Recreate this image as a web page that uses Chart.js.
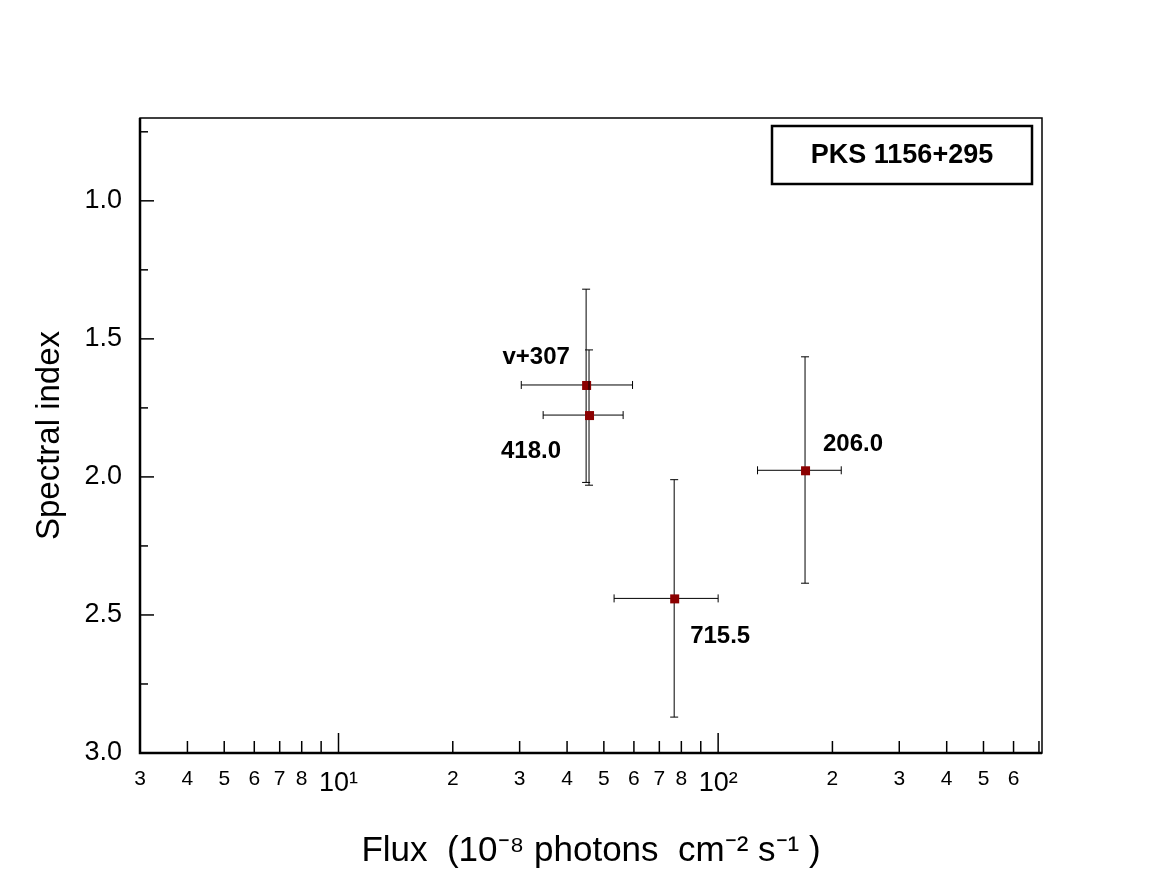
<!DOCTYPE html>
<html><head><meta charset="utf-8">
<script src="https://cdn.jsdelivr.net/npm/chart.js@4"></script>
<style>body{margin:0;background:#fff}#w{width:1158px;height:894px}</style>
</head><body><div id="w"><canvas id="c"></canvas></div>
<script>
const labels = ["v+307","418.0","715.5","206.0"];
const flux = [44.9, 45.7, 76.6, 169.4];
const fluxLo = [30.3, 34.6, 53.2, 127];
const fluxHi = [59.5, 56.2, 100, 211];
const index = [1.667, 1.776, 2.44, 1.976];
const indexLo = [1.32, 1.54, 2.01, 1.565];
const indexHi = [2.02, 2.03, 2.87, 2.385];
const labelOffsets = [[-50,-28],[-58,36],[46,38],[48,-26]];
const xTickVals = [3,4,5,6,7,8,10,20,30,40,50,60,70,80,100,200,300,400,500,600];
const xTickText = {10:"10¹",100:"10²"};
const yTickVals = [1.0,1.5,2.0,2.5,3.0];

const plugin = {
  id:'extras',
  afterDatasetsDraw(ch){
    const c=ch.ctx, x=ch.scales.x, y=ch.scales.y, a=ch.chartArea;
    c.save();
    c.strokeStyle='#000'; c.lineWidth=1;
    for(let i=0;i<flux.length;i++){
      const px=x.getPixelForValue(flux[i]), py=y.getPixelForValue(index[i]);
      const x0=x.getPixelForValue(fluxLo[i]), x1=x.getPixelForValue(fluxHi[i]);
      const y0=y.getPixelForValue(indexLo[i]), y1=y.getPixelForValue(indexHi[i]);
      c.beginPath();
      c.moveTo(x0,py);c.lineTo(x1,py);
      c.moveTo(x0,py-4);c.lineTo(x0,py+4);c.moveTo(x1,py-4);c.lineTo(x1,py+4);
      c.moveTo(px,y0);c.lineTo(px,y1);
      c.moveTo(px-4,y0);c.lineTo(px+4,y0);c.moveTo(px-4,y1);c.lineTo(px+4,y1);
      c.stroke();
      c.fillStyle='#8b0000'; c.fillRect(px-4,py-4,9,9);
      c.fillStyle='#000'; c.font='bold 24px "Liberation Sans", Arial'; c.textAlign='center'; c.textBaseline='middle';
      c.fillText(labels[i], px+labelOffsets[i][0], py+labelOffsets[i][1]);
    }
    c.lineWidth=1.5; c.strokeRect(a.left,a.top,a.right-a.left,a.bottom-a.top);
    c.lineWidth=2.5; c.beginPath(); c.moveTo(a.left,a.top); c.lineTo(a.left,a.bottom); c.lineTo(a.right,a.bottom); c.stroke();
    c.lineWidth=1.5;
    const all=[];
    for(let d=1;d<=100;d*=10) for(let m=1;m<10;m++) all.push(m*d);
    all.forEach(v=>{ if(v<x.min||v>x.max) return; const p=x.getPixelForValue(v); const L=(v===10||v===100)?20:12;
      c.beginPath(); c.moveTo(p,a.bottom); c.lineTo(p,a.bottom-L); c.stroke(); });
    for(let v=0.75; v<=3.0; v+=0.25){ const p=y.getPixelForValue(v); const L=(Math.abs(v*2-Math.round(v*2))<1e-6)?14:8;
      c.beginPath(); c.moveTo(a.left,p); c.lineTo(a.left+L,p); c.stroke(); }
    c.restore();
  }
};
const boxPlugin={id:'box',afterDraw(ch){const c=ch.ctx;c.save();c.fillStyle='#fff';c.fillRect(770,124,266,62);
  c.lineWidth=2.5;c.strokeStyle='#000';c.strokeRect(772,126,260,58);
  c.fillStyle='#000';c.font='bold 27px "Liberation Sans", Arial';c.textAlign='center';c.textBaseline='middle';c.fillText('PKS 1156+295',902,156);c.restore();}};

new Chart(document.getElementById('c'),{
  type:'scatter',
  data:{datasets:[{data:flux.map((v,i)=>({x:v,y:index[i]})),pointRadius:0,showLine:false}]},
  options:{
    responsive:true,maintainAspectRatio:false,animation:false,
    layout:{padding:{top:118,right:116,left:0,bottom:0}},
    plugins:{legend:{display:false},tooltip:{enabled:false}},
    scales:{
      x:{type:'logarithmic',min:3,max:713,
        afterBuildTicks:s=>{s.ticks=xTickVals.map(v=>({value:v}));},
        afterFit:s=>{s.height=141;},
        grid:{display:false},border:{display:false},
        ticks:{autoSkip:false,maxRotation:0,color:'#000',padding:6,
          font:ctx=>({size:(ctx.tick&&(ctx.tick.value===10||ctx.tick.value===100))?27:21,family:'"Liberation Sans", Arial'}),
          callback:(v)=>xTickText[v]||String(v>=100?v/100:v>=10?v/10:v)},
        title:{display:true,text:'Flux  (10⁻⁸ photons  cm⁻² s⁻¹ )',color:'#000',font:{size:35,family:'"Liberation Sans", Arial'},padding:{top:0,bottom:22}}
      },
      y:{reverse:true,min:0.7,max:3.0,
        afterBuildTicks:s=>{s.ticks=yTickVals.map(v=>({value:v}));},
        afterFit:s=>{s.width=140;},
        grid:{display:false},border:{display:false},
        ticks:{color:'#000',font:{size:27,family:'"Liberation Sans", Arial'},padding:10,callback:v=>v.toFixed(1)},
        title:{display:true,text:'Spectral index',color:'#000',font:{size:33,family:'"Liberation Sans", Arial'},padding:{top:30,bottom:0}}
      }
    }
  },
  plugins:[plugin,boxPlugin]
});
</script></body></html>
